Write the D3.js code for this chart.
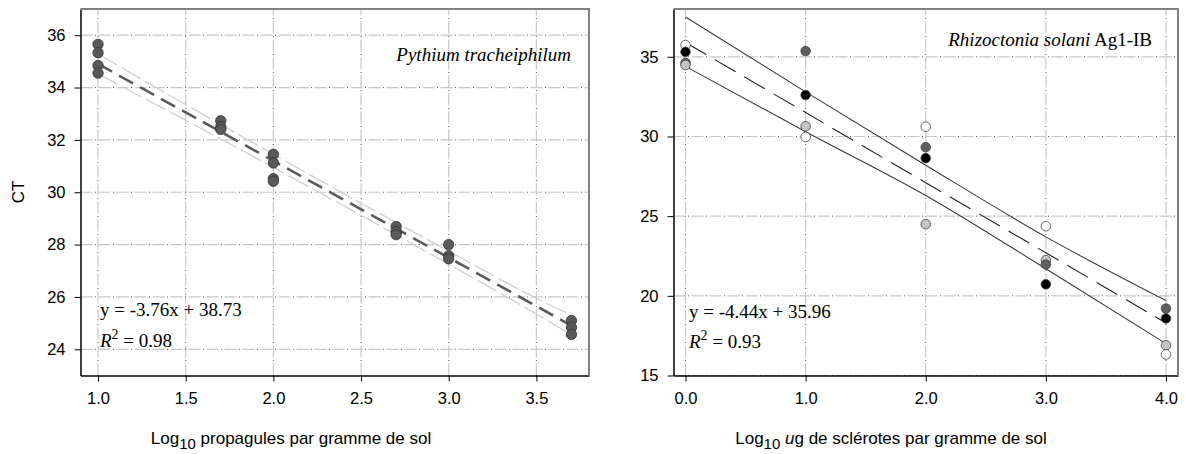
<html>
<head>
<meta charset="utf-8">
<script src="https://d3js.org/d3.v7.min.js"></script>
<style>
  body { margin: 0; background: #fff; }
  svg text { font-family: "Liberation Sans", Arial, sans-serif; }
  .serif { font-family: "Liberation Serif", "Times New Roman", serif; }
</style>
</head>
<body>
<svg width="1185" height="454"></svg>
<script>
// ---- left panel : Pythium tracheiphilum ----
var pyX = [1.0, 1.0, 1.0, 1.0, 1.7, 1.7, 1.7, 2.0, 2.0, 2.0, 2.0, 2.7, 2.7, 2.7, 3.0, 3.0, 3.0, 3.7, 3.7, 3.7];
var pyCT = [35.65, 35.33, 34.84, 34.55, 32.73, 32.5, 32.4, 31.45, 31.12, 30.52, 30.42, 28.69, 28.5, 28.38, 28.0, 27.58, 27.46, 25.1, 24.84, 24.57];
var pyFitX = [1.0, 1.5, 2.0, 2.5, 3.0, 3.5, 3.7];
var pyFit = [34.9, 33.05, 31.2, 29.35, 27.5, 25.65, 24.9];
var pyUpper = [35.28, 33.35, 31.45, 29.58, 27.75, 25.95, 25.3];
var pyLower = [34.52, 32.75, 30.95, 29.12, 27.25, 25.35, 24.55];
var pyXTicks = [1.0, 1.5, 2.0, 2.5, 3.0, 3.5];
var pyYTicks = [24, 26, 28, 30, 32, 34, 36];

// ---- right panel : Rhizoctonia solani ----
var rhX = [0, 0, 0, 0, 1, 1, 1, 1, 2, 2, 2, 2, 3, 3, 3, 3, 4, 4, 4, 4];
var rhCT = [35.73, 35.31, 34.62, 34.48, 35.36, 32.6, 30.64, 29.97, 30.61, 29.33, 28.64, 24.5, 24.37, 22.24, 21.97, 20.72, 19.2, 18.58, 16.9, 16.32];
var rhGroup = ["w", "k", "d", "l", "d", "k", "l", "w", "w", "d", "k", "l", "w", "l", "d", "k", "d", "k", "l", "w"];
var rhFitX = [0, 1, 2, 3, 4];
var rhFit = [35.9, 31.5, 27.1, 22.7, 18.3];
var rhUpper = [37.5, 32.8, 28.2, 23.7, 19.7];
var rhLower = [34.4, 30.3, 26.3, 21.7, 17.0];
var rhXTicks = [0, 1, 2, 3, 4];
var rhYTicks = [15, 20, 25, 30, 35];

var groupFill = { w: "#ffffff", l: "#c4c4c4", d: "#5e5e5e", k: "#000000" };

var svg = d3.select("svg");
var plotTop = 9, plotBottom = 375.5;

function grid(g, x, y, xt, yt) {
    var x0 = x.range()[0], x1 = x.range()[1];
    xt.forEach(function(t) {
        g.append("line").attr("x1", x(t)).attr("x2", x(t)).attr("y1", plotBottom).attr("y2", plotTop)
            .attr("stroke", "#c8c8c8").attr("stroke-width", 1.2).attr("stroke-dasharray", "12,6");
        g.append("line").attr("x1", x(t)).attr("x2", x(t)).attr("y1", plotBottom).attr("y2", plotTop)
            .attr("stroke", "#555").attr("stroke-width", 1).attr("stroke-dasharray", "1,17").attr("stroke-dashoffset", -14.5);
    });
    yt.forEach(function(t) {
        g.append("line").attr("x1", x0).attr("x2", x1).attr("y1", y(t)).attr("y2", y(t))
            .attr("stroke", "#c8c8c8").attr("stroke-width", 1.2).attr("stroke-dasharray", "12,6");
        g.append("line").attr("x1", x0).attr("x2", x1).attr("y1", y(t)).attr("y2", y(t))
            .attr("stroke", "#555").attr("stroke-width", 1).attr("stroke-dasharray", "1,17").attr("stroke-dashoffset", -14.5);
    });
}

function axes(g, x, y, xt, yt, fmtX, fmtY) {
    var xa = g.append("g").attr("transform", "translate(0," + plotBottom + ")")
        .call(d3.axisBottom(x).tickValues(xt).tickSize(6).tickSizeOuter(0).tickPadding(11).tickFormat(fmtX));
    var ya = g.append("g").attr("transform", "translate(" + x.range()[0] + ",0)")
        .call(d3.axisLeft(y).tickValues(yt).tickSize(6).tickSizeOuter(0).tickPadding(9).tickFormat(fmtY));
    [xa, ya].forEach(function(a) {
        a.select(".domain").attr("stroke", "#000").attr("stroke-width", 1.5);
        a.selectAll(".tick line").attr("stroke", "#000");
        a.selectAll("text").attr("font-size", 16.5).attr("fill", "#000")
            .attr("font-family", "'Liberation Sans', Arial, sans-serif");
    });
    // grey frame top and right
    g.append("path")
        .attr("d", "M" + x.range()[0] + "," + plotTop + "H" + x.range()[1] + "V" + plotBottom)
        .attr("fill", "none").attr("stroke", "#808080").attr("stroke-width", 2);
}

// ---------- left ----------
var xL = d3.scaleLinear().domain([0.9, 3.8]).range([80.5, 589]);
var yL = d3.scaleLinear().domain([23, 37]).range([plotBottom, plotTop]);
var gL = svg.append("g");
grid(gL, xL, yL, pyXTicks, pyYTicks);

var lineL = function(vals) {
    return d3.line().x(function(d, i) { return xL(pyFitX[i]); }).y(function(d) { return yL(d); })
        .curve(d3.curveMonotoneX)(vals);
};
[pyUpper, pyLower].forEach(function(v) {
    gL.append("path").attr("d", lineL(v)).attr("fill", "none")
        .attr("stroke", "#cfcfcf").attr("stroke-width", 1.3).attr("stroke-dasharray", "22,5");
});
gL.append("path").attr("d", lineL(pyFit)).attr("fill", "none")
    .attr("stroke", "#5c5c5c").attr("stroke-width", 2.6).attr("stroke-dasharray", "16,8");

gL.selectAll("circle").data(pyX).enter().append("circle")
    .attr("cx", function(d) { return xL(d); })
    .attr("cy", function(d, i) { return yL(pyCT[i]); })
    .attr("r", 5.2)
    .attr("fill", "#595959").attr("stroke", "#333").attr("stroke-width", 0.8);

axes(gL, xL, yL, pyXTicks, pyYTicks, d3.format(".1f"), d3.format("d"));

gL.append("text").attr("class", "serif").attr("x", 571).attr("y", 61).attr("text-anchor", "end")
    .attr("font-size", 19).attr("font-style", "italic").text("Pythium tracheiphilum");
gL.append("text").attr("class", "serif").attr("x", 100).attr("y", 316).attr("font-size", 19).text("y = -3.76x + 38.73");
var r2L = gL.append("text").attr("class", "serif").attr("x", 100).attr("y", 347).attr("font-size", 19);
r2L.append("tspan").attr("font-style", "italic").text("R");
r2L.append("tspan").attr("dy", -8).attr("font-size", 14).text("2");
r2L.append("tspan").attr("dy", 8).text(" = 0.98");

gL.append("text").attr("transform", "translate(24,192) rotate(-90)").attr("text-anchor", "middle")
    .attr("font-size", 17).text("CT");
var xlabL = gL.append("text").attr("x", 291).attr("y", 444).attr("text-anchor", "middle").attr("font-size", 17);
xlabL.append("tspan").text("Log");
xlabL.append("tspan").attr("dy", 5).attr("font-size", 15).text("10");
xlabL.append("tspan").attr("dy", -5).text(" propagules par gramme de sol");

// ---------- right ----------
var xR = d3.scaleLinear().domain([-0.1, 4.1]).range([673.5, 1178]);
var yR = d3.scaleLinear().domain([15, 38]).range([plotBottom, plotTop]);
var gR = svg.append("g");
grid(gR, xR, yR, rhXTicks, rhYTicks);

var lineR = function(vals) {
    return d3.line().x(function(d, i) { return xR(rhFitX[i]); }).y(function(d) { return yR(d); })
        .curve(d3.curveMonotoneX)(vals);
};
[rhUpper, rhLower].forEach(function(v) {
    gR.append("path").attr("d", lineR(v)).attr("fill", "none")
        .attr("stroke", "#3a3a3a").attr("stroke-width", 1.1);
});
gR.append("path").attr("d", lineR(rhFit)).attr("fill", "none")
    .attr("stroke", "#222").attr("stroke-width", 1.1).attr("stroke-dasharray", "24,10");

gR.selectAll("circle").data(rhX).enter().append("circle")
    .attr("cx", function(d) { return xR(d); })
    .attr("cy", function(d, i) { return yR(rhCT[i]); })
    .attr("r", 4.8)
    .attr("fill", function(d, i) { return groupFill[rhGroup[i]]; })
    .attr("stroke", "#444").attr("stroke-width", 0.8);

axes(gR, xR, yR, rhXTicks, rhYTicks, d3.format(".1f"), d3.format("d"));

var titR = gR.append("text").attr("class", "serif").attr("x", 1152).attr("y", 46).attr("text-anchor", "end").attr("font-size", 19);
titR.append("tspan").attr("font-style", "italic").text("Rhizoctonia solani");
titR.append("tspan").text(" Ag1-IB");
gR.append("text").attr("class", "serif").attr("x", 689).attr("y", 318).attr("font-size", 19).text("y = -4.44x + 35.96");
var r2R = gR.append("text").attr("class", "serif").attr("x", 689).attr("y", 348).attr("font-size", 19);
r2R.append("tspan").attr("font-style", "italic").text("R");
r2R.append("tspan").attr("dy", -8).attr("font-size", 14).text("2");
r2R.append("tspan").attr("dy", 8).text(" = 0.93");

var xlabR = gR.append("text").attr("x", 891).attr("y", 444).attr("text-anchor", "middle").attr("font-size", 17);
xlabR.append("tspan").text("Log");
xlabR.append("tspan").attr("dy", 5).attr("font-size", 15).text("10");
xlabR.append("tspan").attr("dy", -5).attr("font-style", "italic").text(" u");
xlabR.append("tspan").text("g de sclérotes par gramme de sol");
</script>
</body>
</html>
